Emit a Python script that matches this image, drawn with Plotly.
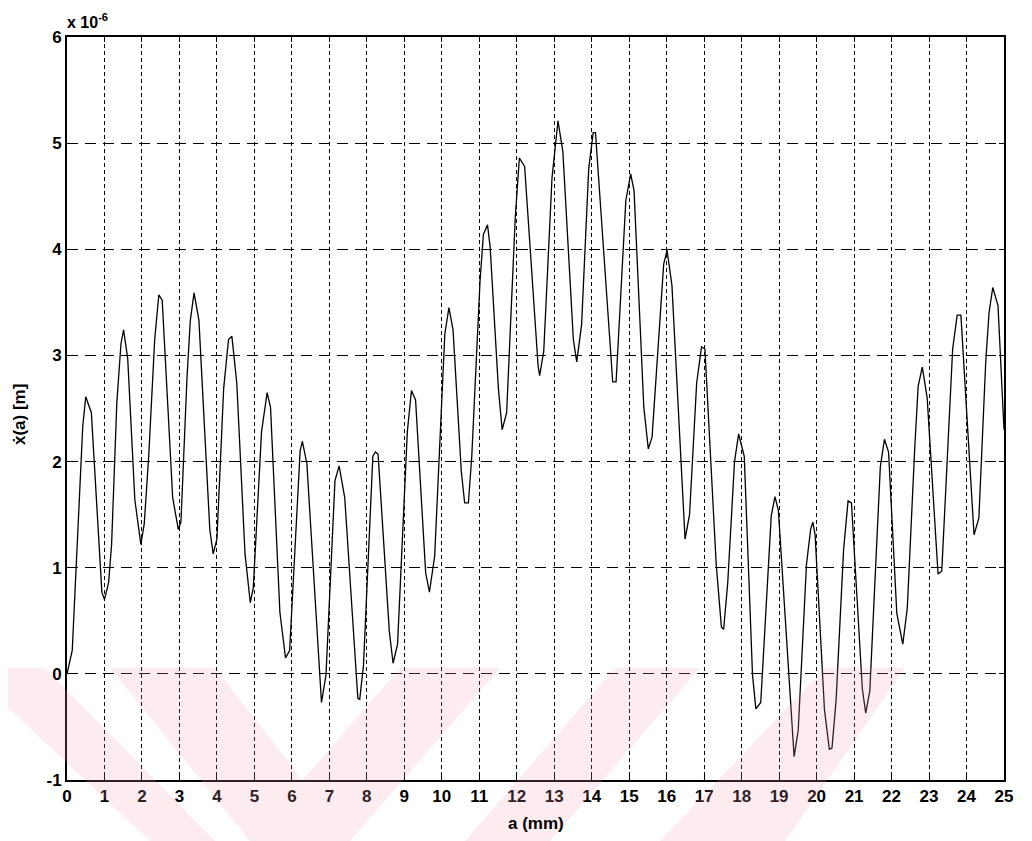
import plotly.graph_objects as go

# position a (mm)
a_mm = [0.00, 0.14, 0.42, 0.50, 0.65, 0.93, 1.00, 1.11, 1.19, 1.33, 1.44, 1.51, 1.62, 1.81, 1.97, 2.06,
        2.18, 2.34, 2.45, 2.54, 2.82, 2.97, 3.04, 3.20, 3.29, 3.39, 3.52, 3.81, 3.90, 4.00, 4.18, 4.31,
        4.40, 4.53, 4.75, 4.89, 4.97, 5.19, 5.34, 5.43, 5.68, 5.83, 5.94, 6.22, 6.28, 6.40, 6.79, 6.91,
        7.15, 7.26, 7.41, 7.76, 7.81, 7.91, 8.16, 8.23, 8.30, 8.60, 8.70, 8.82, 9.08, 9.19, 9.30, 9.57,
        9.67, 9.81, 10.08, 10.19, 10.30, 10.52, 10.61, 10.71, 10.80, 11.02, 11.11, 11.22, 11.29, 11.51,
        11.61, 11.73, 11.96, 12.07, 12.21, 12.57, 12.61, 12.72, 12.94, 13.10, 13.23, 13.51, 13.60, 13.73,
        13.92, 14.04, 14.10, 14.56, 14.65, 14.91, 15.04, 15.13, 15.39, 15.51, 15.61, 15.92, 16.01, 16.14,
        16.49, 16.61, 16.80, 16.93, 17.02, 17.32, 17.46, 17.52, 17.63, 17.81, 17.92, 18.07, 18.29, 18.38,
        18.51, 18.79, 18.89, 18.98, 19.40, 19.51, 19.73, 19.84, 19.90, 19.96, 20.21, 20.34, 20.41, 20.52,
        20.72, 20.84, 20.93, 21.22, 21.31, 21.42, 21.70, 21.81, 21.92, 22.14, 22.30, 22.42, 22.62, 22.71,
        22.82, 22.95, 23.24, 23.34, 23.63, 23.75, 23.85, 24.20, 24.33, 24.51, 24.60, 24.70, 24.84, 25.00]

# velocity x'(a) in units of 1e-6 m
x_dot = [0.00, 0.22, 2.33, 2.61, 2.46, 0.77, 0.70, 0.86, 1.22, 2.56, 3.11, 3.24, 2.97, 1.64, 1.22, 1.41,
         2.05, 3.15, 3.57, 3.52, 1.66, 1.36, 1.43, 2.78, 3.33, 3.59, 3.33, 1.36, 1.13, 1.27, 2.69, 3.15,
         3.18, 2.74, 1.13, 0.67, 0.81, 2.28, 2.65, 2.51, 0.58, 0.15, 0.22, 2.10, 2.19, 1.98, -0.27, -0.01,
         1.82, 1.96, 1.66, -0.23, -0.24, 0.08, 2.05, 2.09, 2.07, 0.40, 0.10, 0.28, 2.28, 2.67, 2.58, 0.95,
         0.77, 1.11, 3.20, 3.45, 3.24, 1.91, 1.61, 1.61, 2.05, 3.70, 4.14, 4.23, 4.02, 2.69,
         2.30, 2.46, 4.30, 4.86, 4.78, 2.90, 2.81, 3.04, 4.67, 5.21, 4.92, 3.15, 2.94, 3.29,
         4.76, 5.10, 5.10, 2.75, 2.75, 4.46, 4.71, 4.55, 2.51, 2.12, 2.23, 3.86, 3.99, 3.66,
         1.27, 1.50, 2.74, 3.08, 3.06, 1.04, 0.44, 0.42, 0.86, 2.00, 2.26, 2.05, -0.01, -0.33,
         -0.27, 1.49, 1.67, 1.54, -0.78, -0.53, 1.03, 1.36, 1.43, 1.31, -0.34, -0.71, -0.70, -0.25,
         1.17, 1.63, 1.61, -0.14, -0.37, -0.16, 1.95, 2.21, 2.09, 0.57, 0.28, 0.62, 2.14, 2.71,
         2.89, 2.60, 0.94, 0.97, 3.06, 3.38, 3.38, 1.31, 1.47, 2.92, 3.40, 3.64, 3.47, 2.30]

x_ticks = list(range(0, 26))
y_ticks = [-1, 0, 1, 2, 3, 4, 5, 6]

FONT = "Liberation Sans, Arial, Helvetica, sans-serif"

fig = go.Figure()
fig.add_trace(go.Scatter(x=a_mm, y=x_dot, mode="lines",
                         line=dict(color="black", width=1.3), showlegend=False))

# faint pink scan watermark (background decoration), in page pixels -> paper coords
PL, PR, PT, PB = 67.0, 1004.0, 37.0, 780.0
def px(xp):
    return (xp - PL) / (PR - PL)
def py(yp):
    return (PB - yp) / (PB - PT)
bands = [
    [(0, 668), (45, 668), (215, 841), (150, 841), (0, 700)],
    [(110, 668), (250, 841), (350, 841), (500, 668), (400, 668), (302.6, 780.3), (215, 668)],
    [(465, 841), (550, 841), (700, 668), (615, 668)],
    [(660, 841), (785, 841), (905, 668), (825, 668)],
]
shapes = []
for poly in bands:
    path = "M " + " L ".join(f"{px(x):.4f},{py(y):.4f}" for x, y in poly) + " Z"
    shapes.append(dict(type="path", xref="paper", yref="paper", path=path,
                       fillcolor="rgba(240,160,178,0.2)", line=dict(width=0), layer="above"))

tick_font = dict(family=FONT, size=17, color="black", weight="bold")
fig.update_layout(
    width=1032, height=841,
    margin=dict(l=59, r=36, t=29, b=69),
    paper_bgcolor="white", plot_bgcolor="white",
    xaxis=dict(range=[0, 25], tickmode="array", tickvals=x_ticks, ticktext=[str(t) for t in x_ticks],
               showgrid=True, gridcolor="black", gridwidth=1, griddash="4px,3px",
               showline=True, linecolor="black", linewidth=2, mirror="ticks",
               ticks="inside", ticklen=5, tickcolor="black", zeroline=False,
               tickfont=tick_font),
    yaxis=dict(range=[-1, 6], tickmode="array", tickvals=y_ticks, ticktext=[str(t) for t in y_ticks],
               showgrid=True, gridcolor="black", gridwidth=1, griddash="11px,7px",
               showline=True, linecolor="black", linewidth=2, mirror="ticks",
               ticks="inside", ticklen=5, tickcolor="black", zeroline=False,
               tickfont=tick_font),
    shapes=shapes,
    annotations=[
        dict(text="x 10<sup>-6</sup>", xref="paper", yref="paper", x=0.0, y=1.0,
             xanchor="left", yanchor="bottom", showarrow=False, yshift=4, xshift=-2,
             font=dict(family=FONT, size=16, color="black", weight="bold")),
        dict(text="a (mm)", xref="paper", yref="paper", x=0.5, y=py(823),
             xanchor="center", yanchor="middle", showarrow=False,
             font=dict(family=FONT, size=17, color="black", weight="bold")),
        dict(text="ẋ(a) [m]", xref="paper", yref="paper", x=px(19), y=py(415),
             xanchor="center", yanchor="middle", showarrow=False, textangle=-90,
             font=dict(family=FONT, size=17, color="black", weight="bold")),
    ],
)

fig.write_html("out.html")
